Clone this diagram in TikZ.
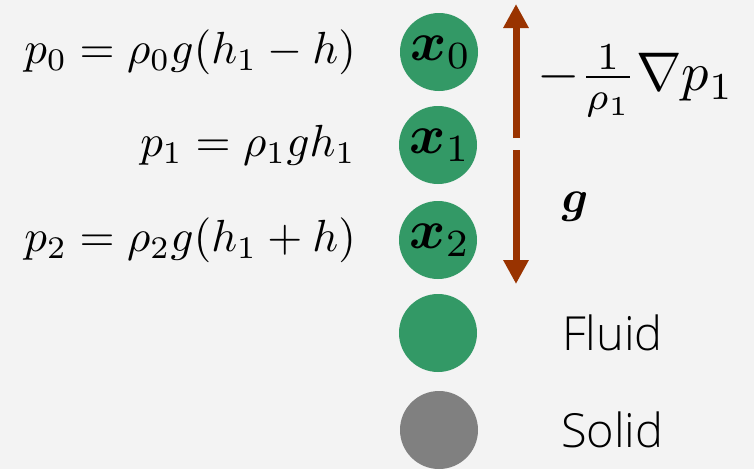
\documentclass[tikz,border=0pt]{standalone}
\usepackage{amsmath}
\usepackage{bm}
\usepackage{graphicx}
\usepackage{fontspec}
\usetikzlibrary{arrows.meta}
\newfontfamily\labelfont{Open Sans Light}
\definecolor{bg}{HTML}{F3F3F3}
\definecolor{fluid}{HTML}{339966}
\definecolor{solidc}{HTML}{808080}
\definecolor{arr}{HTML}{993300}
\newcommand{\eqs}[1]{\scalebox{4.5}{#1}}
\newcommand{\gs}[1]{\scalebox{4.6}{#1}}
\newcommand{\xs}[1]{\scalebox{5.5}{#1}}
\newcommand{\fs}[1]{\scalebox{5.45}{#1}}
\begin{document}
\begin{tikzpicture}[x=1pt,y=-1pt,
  particle/.style={circle,minimum size=78pt,inner sep=0pt,fill=fluid},
  eq/.style={inner sep=0pt},
  lab/.style={font=\labelfont\fontsize{47}{54}\selectfont,inner sep=0pt,anchor=west},
  force/.style={line width=7pt,arr,-{Triangle[length=24pt,width=24pt]}}]
\fill[bg] (0,0) rectangle (754,469);
\useasboundingbox (0,0) rectangle (754,469);
\node[particle] (x0) at (439,52) {};
\node[particle] (x1) at (438,145) {};
\node[particle] (x2) at (438,240) {};
\node[particle] (fl) at (438,333) {};
\node[particle,fill=solidc] (so) at (439,430) {};
\node[eq] at ([xshift=2pt]x0) {\xs{$\bm{x}_0$}};
\node[eq] at ([xshift=2pt]x1) {\xs{$\bm{x}_1$}};
\node[eq] at ([xshift=2pt]x2) {\xs{$\bm{x}_2$}};
\node[eq,anchor=east] (e0) at (356,52) {\eqs{$p_0=\rho_0 g(h_1-h)$}};
\node[eq,anchor=east] (e1) at (356,145) {\eqs{$p_1=\rho_1 g h_1$}};
\node[eq,anchor=east] (e2) at (356,240) {\eqs{$p_2=\rho_2 g(h_1+h)$}};
\coordinate (a0) at (516,138);
\coordinate (a1) at (516,4);
\coordinate (b0) at (516,150);
\coordinate (b1) at (516,284);
\draw[force] (a0) -- (a1);
\draw[force] (b0) -- (b1);
\node[eq,anchor=west] (fp) at (537,81) {\fs{$-\frac{1}{\rho_1}\nabla p_1$}};
\node[eq] (gg) at (575,207) {\gs{$\bm{g}$}};
\node[lab] (tf) at (562,333) {Fluid};
\node[lab] (ts) at (561,430) {Solid};
\end{tikzpicture}
\end{document}
